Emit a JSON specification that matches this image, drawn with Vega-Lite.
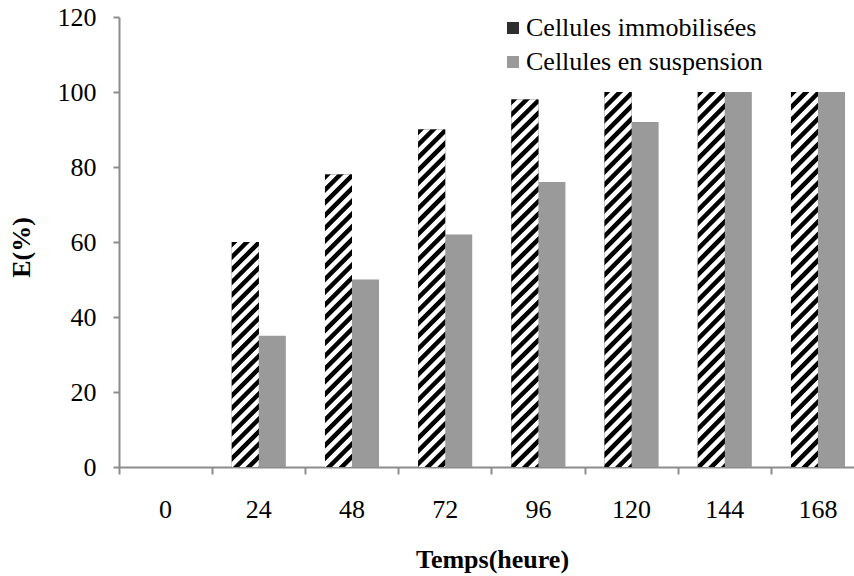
{
"$schema":"https://vega.github.io/schema/vega-lite/v6.json",
"width":735,"height":450,
"autosize":{"type":"none"},
"padding":{"left":119,"top":17,"right":0,"bottom":109},
"config":{"view":{"stroke":null},"font":"Liberation Serif","legend":{"labelFont":"Liberation Serif","padding":0}},
"data":{"values":[
{"t":0,"serie":"Cellules immobilisées","E":0},{"t":0,"serie":"Cellules en suspension","E":0},
{"t":24,"serie":"Cellules immobilisées","E":60},{"t":24,"serie":"Cellules en suspension","E":35},
{"t":48,"serie":"Cellules immobilisées","E":78},{"t":48,"serie":"Cellules en suspension","E":50},
{"t":72,"serie":"Cellules immobilisées","E":90},{"t":72,"serie":"Cellules en suspension","E":62},
{"t":96,"serie":"Cellules immobilisées","E":98},{"t":96,"serie":"Cellules en suspension","E":76},
{"t":120,"serie":"Cellules immobilisées","E":100},{"t":120,"serie":"Cellules en suspension","E":92},
{"t":144,"serie":"Cellules immobilisées","E":100},{"t":144,"serie":"Cellules en suspension","E":100},
{"t":168,"serie":"Cellules immobilisées","E":100},{"t":168,"serie":"Cellules en suspension","E":100}
]},
"encoding":{
"x":{"field":"t","type":"ordinal","scale":{"paddingInner":0.42,"paddingOuter":0.21,"range":[0,745.6]},
"axis":{"title":"Temps(heure)","labelAngle":0,"bandPosition":-0.362,"tickSize":7,"labelPadding":22,"labelFont":"Liberation Serif","labelFontSize":26,"labelColor":"#000","domainColor":"#8c8c8c","tickColor":"#8c8c8c","domainWidth":2,"tickWidth":2,"grid":false,"titleFont":"Liberation Serif","titleFontSize":26,"titleFontWeight":"bold","titleColor":"#000","titleX":373,"titleY":100,"titleBaseline":"alphabetic","titleAnchor":null}},
"xOffset":{"field":"serie","type":"nominal","scale":{"domain":["Cellules immobilisées","Cellules en suspension"],"paddingInner":0,"paddingOuter":0}},
"y":{"field":"E","type":"quantitative","scale":{"domain":[0,120]},
"axis":{"title":"E(%)","values":[0,20,40,60,80,100,120],"grid":false,"tickSize":6,"labelPadding":17,"labelFont":"Liberation Serif","labelFontSize":26,"labelColor":"#000","domainColor":"#8c8c8c","tickColor":"#8c8c8c","domainWidth":2,"tickWidth":2,"titleFont":"Liberation Serif","titleFontSize":26,"titleFontWeight":"bold","titleColor":"#000","titleAngle":-90,"titleBaseline":"alphabetic","titleAlign":"center","titleX":-90,"titleY":230}}
},
"layer":[
{"mark":{"type":"bar","strokeWidth":0},
"encoding":{"color":{"field":"serie","type":"nominal","scale":{"domain":["Cellules immobilisées","Cellules en suspension"],"range":["#2e2e2e","#9a9a9a"]},
"legend":{"title":null,"orient":"none","legendX":381,"legendY":-2,"padding":0,"symbolType":"square","symbolSize":144,"symbolStrokeWidth":0,"labelFont":"Liberation Serif","labelFontSize":26,"labelColor":"#000","rowPadding":8,"labelOffset":0,"labelLimit":0}}}},
{"transform":[{"filter":"datum.serie === 'Cellules immobilisées' && datum.E === 60"}],
"mark":{"type":"bar","strokeWidth":0,"fill":{"gradient":"linear","x1":0,"y1":0,"x2":0.1325,"y2":1.1041,"stops":[
{"offset":0,"color":"#000"},{"offset":0.02,"color":"#000"},{"offset":0.025,"color":"#fff"},{"offset":0.045,"color":"#fff"},
{"offset":0.05,"color":"#000"},{"offset":0.07,"color":"#000"},{"offset":0.075,"color":"#fff"},{"offset":0.095,"color":"#fff"},
{"offset":0.1,"color":"#000"},{"offset":0.12,"color":"#000"},{"offset":0.125,"color":"#fff"},{"offset":0.145,"color":"#fff"},
{"offset":0.15,"color":"#000"},{"offset":0.17,"color":"#000"},{"offset":0.175,"color":"#fff"},{"offset":0.195,"color":"#fff"},
{"offset":0.2,"color":"#000"},{"offset":0.22,"color":"#000"},{"offset":0.225,"color":"#fff"},{"offset":0.245,"color":"#fff"},
{"offset":0.25,"color":"#000"},{"offset":0.27,"color":"#000"},{"offset":0.275,"color":"#fff"},{"offset":0.295,"color":"#fff"},
{"offset":0.3,"color":"#000"},{"offset":0.32,"color":"#000"},{"offset":0.325,"color":"#fff"},{"offset":0.345,"color":"#fff"},
{"offset":0.35,"color":"#000"},{"offset":0.37,"color":"#000"},{"offset":0.375,"color":"#fff"},{"offset":0.395,"color":"#fff"},
{"offset":0.4,"color":"#000"},{"offset":0.42,"color":"#000"},{"offset":0.425,"color":"#fff"},{"offset":0.445,"color":"#fff"},
{"offset":0.45,"color":"#000"},{"offset":0.47,"color":"#000"},{"offset":0.475,"color":"#fff"},{"offset":0.495,"color":"#fff"},
{"offset":0.5,"color":"#000"},{"offset":0.52,"color":"#000"},{"offset":0.525,"color":"#fff"},{"offset":0.545,"color":"#fff"},
{"offset":0.55,"color":"#000"},{"offset":0.57,"color":"#000"},{"offset":0.575,"color":"#fff"},{"offset":0.595,"color":"#fff"},
{"offset":0.6,"color":"#000"},{"offset":0.62,"color":"#000"},{"offset":0.625,"color":"#fff"},{"offset":0.645,"color":"#fff"},
{"offset":0.65,"color":"#000"},{"offset":0.67,"color":"#000"},{"offset":0.675,"color":"#fff"},{"offset":0.695,"color":"#fff"},
{"offset":0.7,"color":"#000"},{"offset":0.72,"color":"#000"},{"offset":0.725,"color":"#fff"},{"offset":0.745,"color":"#fff"},
{"offset":0.75,"color":"#000"},{"offset":0.77,"color":"#000"},{"offset":0.775,"color":"#fff"},{"offset":0.795,"color":"#fff"},
{"offset":0.8,"color":"#000"},{"offset":0.82,"color":"#000"},{"offset":0.825,"color":"#fff"},{"offset":0.845,"color":"#fff"},
{"offset":0.85,"color":"#000"},{"offset":0.87,"color":"#000"},{"offset":0.875,"color":"#fff"},{"offset":0.895,"color":"#fff"},
{"offset":0.9,"color":"#000"},{"offset":0.92,"color":"#000"},{"offset":0.925,"color":"#fff"},{"offset":0.945,"color":"#fff"},
{"offset":0.95,"color":"#000"},{"offset":0.97,"color":"#000"},{"offset":0.975,"color":"#fff"},{"offset":0.995,"color":"#fff"},
{"offset":1,"color":"#000"}]}}},
{"transform":[{"filter":"datum.serie === 'Cellules immobilisées' && datum.E === 78"}],
"mark":{"type":"bar","strokeWidth":0,"fill":{"gradient":"linear","x1":0,"y1":0,"x2":0.1,"y2":1.0831,"stops":[
{"offset":0,"color":"#000"},{"offset":0.016,"color":"#000"},{"offset":0.02,"color":"#fff"},{"offset":0.036,"color":"#fff"},
{"offset":0.04,"color":"#000"},{"offset":0.056,"color":"#000"},{"offset":0.06,"color":"#fff"},{"offset":0.076,"color":"#fff"},
{"offset":0.08,"color":"#000"},{"offset":0.096,"color":"#000"},{"offset":0.1,"color":"#fff"},{"offset":0.116,"color":"#fff"},
{"offset":0.12,"color":"#000"},{"offset":0.136,"color":"#000"},{"offset":0.14,"color":"#fff"},{"offset":0.156,"color":"#fff"},
{"offset":0.16,"color":"#000"},{"offset":0.176,"color":"#000"},{"offset":0.18,"color":"#fff"},{"offset":0.196,"color":"#fff"},
{"offset":0.2,"color":"#000"},{"offset":0.216,"color":"#000"},{"offset":0.22,"color":"#fff"},{"offset":0.236,"color":"#fff"},
{"offset":0.24,"color":"#000"},{"offset":0.256,"color":"#000"},{"offset":0.26,"color":"#fff"},{"offset":0.276,"color":"#fff"},
{"offset":0.28,"color":"#000"},{"offset":0.296,"color":"#000"},{"offset":0.3,"color":"#fff"},{"offset":0.316,"color":"#fff"},
{"offset":0.32,"color":"#000"},{"offset":0.336,"color":"#000"},{"offset":0.34,"color":"#fff"},{"offset":0.356,"color":"#fff"},
{"offset":0.36,"color":"#000"},{"offset":0.376,"color":"#000"},{"offset":0.38,"color":"#fff"},{"offset":0.396,"color":"#fff"},
{"offset":0.4,"color":"#000"},{"offset":0.416,"color":"#000"},{"offset":0.42,"color":"#fff"},{"offset":0.436,"color":"#fff"},
{"offset":0.44,"color":"#000"},{"offset":0.456,"color":"#000"},{"offset":0.46,"color":"#fff"},{"offset":0.476,"color":"#fff"},
{"offset":0.48,"color":"#000"},{"offset":0.496,"color":"#000"},{"offset":0.5,"color":"#fff"},{"offset":0.516,"color":"#fff"},
{"offset":0.52,"color":"#000"},{"offset":0.536,"color":"#000"},{"offset":0.54,"color":"#fff"},{"offset":0.556,"color":"#fff"},
{"offset":0.56,"color":"#000"},{"offset":0.576,"color":"#000"},{"offset":0.58,"color":"#fff"},{"offset":0.596,"color":"#fff"},
{"offset":0.6,"color":"#000"},{"offset":0.616,"color":"#000"},{"offset":0.62,"color":"#fff"},{"offset":0.636,"color":"#fff"},
{"offset":0.64,"color":"#000"},{"offset":0.656,"color":"#000"},{"offset":0.66,"color":"#fff"},{"offset":0.676,"color":"#fff"},
{"offset":0.68,"color":"#000"},{"offset":0.696,"color":"#000"},{"offset":0.7,"color":"#fff"},{"offset":0.716,"color":"#fff"},
{"offset":0.72,"color":"#000"},{"offset":0.736,"color":"#000"},{"offset":0.74,"color":"#fff"},{"offset":0.756,"color":"#fff"},
{"offset":0.76,"color":"#000"},{"offset":0.776,"color":"#000"},{"offset":0.78,"color":"#fff"},{"offset":0.796,"color":"#fff"},
{"offset":0.8,"color":"#000"},{"offset":0.816,"color":"#000"},{"offset":0.82,"color":"#fff"},{"offset":0.836,"color":"#fff"},
{"offset":0.84,"color":"#000"},{"offset":0.856,"color":"#000"},{"offset":0.86,"color":"#fff"},{"offset":0.876,"color":"#fff"},
{"offset":0.88,"color":"#000"},{"offset":0.896,"color":"#000"},{"offset":0.9,"color":"#fff"},{"offset":0.916,"color":"#fff"},
{"offset":0.92,"color":"#000"},{"offset":0.936,"color":"#000"},{"offset":0.94,"color":"#fff"},{"offset":0.956,"color":"#fff"},
{"offset":0.96,"color":"#000"},{"offset":0.976,"color":"#000"},{"offset":0.98,"color":"#fff"},{"offset":0.996,"color":"#fff"},
{"offset":1,"color":"#000"}]}}},
{"transform":[{"filter":"datum.serie === 'Cellules immobilisées' && datum.E === 90"}],
"mark":{"type":"bar","strokeWidth":0,"fill":{"gradient":"linear","x1":0,"y1":0,"x2":0.0859,"y2":1.0731,"stops":[
{"offset":0,"color":"#000"},{"offset":0.014,"color":"#000"},{"offset":0.0175,"color":"#fff"},{"offset":0.0315,"color":"#fff"},
{"offset":0.035,"color":"#000"},{"offset":0.049,"color":"#000"},{"offset":0.0525,"color":"#fff"},{"offset":0.0665,"color":"#fff"},
{"offset":0.07,"color":"#000"},{"offset":0.084,"color":"#000"},{"offset":0.0875,"color":"#fff"},{"offset":0.1015,"color":"#fff"},
{"offset":0.105,"color":"#000"},{"offset":0.119,"color":"#000"},{"offset":0.1225,"color":"#fff"},{"offset":0.1365,"color":"#fff"},
{"offset":0.14,"color":"#000"},{"offset":0.154,"color":"#000"},{"offset":0.1575,"color":"#fff"},{"offset":0.1715,"color":"#fff"},
{"offset":0.175,"color":"#000"},{"offset":0.189,"color":"#000"},{"offset":0.1925,"color":"#fff"},{"offset":0.2065,"color":"#fff"},
{"offset":0.21,"color":"#000"},{"offset":0.224,"color":"#000"},{"offset":0.2275,"color":"#fff"},{"offset":0.2415,"color":"#fff"},
{"offset":0.245,"color":"#000"},{"offset":0.259,"color":"#000"},{"offset":0.2625,"color":"#fff"},{"offset":0.2765,"color":"#fff"},
{"offset":0.28,"color":"#000"},{"offset":0.294,"color":"#000"},{"offset":0.2975,"color":"#fff"},{"offset":0.3115,"color":"#fff"},
{"offset":0.315,"color":"#000"},{"offset":0.329,"color":"#000"},{"offset":0.3325,"color":"#fff"},{"offset":0.3465,"color":"#fff"},
{"offset":0.35,"color":"#000"},{"offset":0.364,"color":"#000"},{"offset":0.3675,"color":"#fff"},{"offset":0.3815,"color":"#fff"},
{"offset":0.385,"color":"#000"},{"offset":0.399,"color":"#000"},{"offset":0.4025,"color":"#fff"},{"offset":0.4165,"color":"#fff"},
{"offset":0.42,"color":"#000"},{"offset":0.434,"color":"#000"},{"offset":0.4375,"color":"#fff"},{"offset":0.4515,"color":"#fff"},
{"offset":0.455,"color":"#000"},{"offset":0.469,"color":"#000"},{"offset":0.4725,"color":"#fff"},{"offset":0.4865,"color":"#fff"},
{"offset":0.49,"color":"#000"},{"offset":0.504,"color":"#000"},{"offset":0.5075,"color":"#fff"},{"offset":0.5215,"color":"#fff"},
{"offset":0.525,"color":"#000"},{"offset":0.539,"color":"#000"},{"offset":0.5425,"color":"#fff"},{"offset":0.5565,"color":"#fff"},
{"offset":0.56,"color":"#000"},{"offset":0.574,"color":"#000"},{"offset":0.5775,"color":"#fff"},{"offset":0.5915,"color":"#fff"},
{"offset":0.595,"color":"#000"},{"offset":0.609,"color":"#000"},{"offset":0.6125,"color":"#fff"},{"offset":0.6265,"color":"#fff"},
{"offset":0.63,"color":"#000"},{"offset":0.644,"color":"#000"},{"offset":0.6475,"color":"#fff"},{"offset":0.6615,"color":"#fff"},
{"offset":0.665,"color":"#000"},{"offset":0.679,"color":"#000"},{"offset":0.6825,"color":"#fff"},{"offset":0.6965,"color":"#fff"},
{"offset":0.7,"color":"#000"},{"offset":0.714,"color":"#000"},{"offset":0.7175,"color":"#fff"},{"offset":0.7315,"color":"#fff"},
{"offset":0.735,"color":"#000"},{"offset":0.749,"color":"#000"},{"offset":0.7525,"color":"#fff"},{"offset":0.7665,"color":"#fff"},
{"offset":0.77,"color":"#000"},{"offset":0.784,"color":"#000"},{"offset":0.7875,"color":"#fff"},{"offset":0.8015,"color":"#fff"},
{"offset":0.805,"color":"#000"},{"offset":0.819,"color":"#000"},{"offset":0.8225,"color":"#fff"},{"offset":0.8365,"color":"#fff"},
{"offset":0.84,"color":"#000"},{"offset":0.854,"color":"#000"},{"offset":0.8575,"color":"#fff"},{"offset":0.8715,"color":"#fff"},
{"offset":0.875,"color":"#000"},{"offset":0.889,"color":"#000"},{"offset":0.8925,"color":"#fff"},{"offset":0.9065,"color":"#fff"},
{"offset":0.91,"color":"#000"},{"offset":0.924,"color":"#000"},{"offset":0.9275,"color":"#fff"},{"offset":0.9415,"color":"#fff"},
{"offset":0.945,"color":"#000"},{"offset":0.959,"color":"#000"},{"offset":0.9625,"color":"#fff"},{"offset":0.9765,"color":"#fff"},
{"offset":0.98,"color":"#000"},{"offset":0.994,"color":"#000"},{"offset":0.9975,"color":"#fff"},{"offset":1,"color":"#fff"}]}}},
{"transform":[{"filter":"datum.serie === 'Cellules immobilisées' && datum.E >= 95"}],
"mark":{"type":"bar","strokeWidth":0,"fill":{"gradient":"linear","x1":0,"y1":0,"x2":0.0775,"y2":1.067,"stops":[
{"offset":0,"color":"#000"},{"offset":0.0128,"color":"#000"},{"offset":0.016,"color":"#fff"},{"offset":0.0288,"color":"#fff"},
{"offset":0.032,"color":"#000"},{"offset":0.0448,"color":"#000"},{"offset":0.048,"color":"#fff"},{"offset":0.0608,"color":"#fff"},
{"offset":0.064,"color":"#000"},{"offset":0.0768,"color":"#000"},{"offset":0.08,"color":"#fff"},{"offset":0.0928,"color":"#fff"},
{"offset":0.096,"color":"#000"},{"offset":0.1088,"color":"#000"},{"offset":0.112,"color":"#fff"},{"offset":0.1248,"color":"#fff"},
{"offset":0.128,"color":"#000"},{"offset":0.1408,"color":"#000"},{"offset":0.144,"color":"#fff"},{"offset":0.1568,"color":"#fff"},
{"offset":0.16,"color":"#000"},{"offset":0.1728,"color":"#000"},{"offset":0.176,"color":"#fff"},{"offset":0.1888,"color":"#fff"},
{"offset":0.192,"color":"#000"},{"offset":0.2048,"color":"#000"},{"offset":0.208,"color":"#fff"},{"offset":0.2208,"color":"#fff"},
{"offset":0.224,"color":"#000"},{"offset":0.2368,"color":"#000"},{"offset":0.24,"color":"#fff"},{"offset":0.2528,"color":"#fff"},
{"offset":0.256,"color":"#000"},{"offset":0.2688,"color":"#000"},{"offset":0.272,"color":"#fff"},{"offset":0.2848,"color":"#fff"},
{"offset":0.288,"color":"#000"},{"offset":0.3008,"color":"#000"},{"offset":0.304,"color":"#fff"},{"offset":0.3168,"color":"#fff"},
{"offset":0.32,"color":"#000"},{"offset":0.3328,"color":"#000"},{"offset":0.336,"color":"#fff"},{"offset":0.3488,"color":"#fff"},
{"offset":0.352,"color":"#000"},{"offset":0.3648,"color":"#000"},{"offset":0.368,"color":"#fff"},{"offset":0.3808,"color":"#fff"},
{"offset":0.384,"color":"#000"},{"offset":0.3968,"color":"#000"},{"offset":0.4,"color":"#fff"},{"offset":0.4128,"color":"#fff"},
{"offset":0.416,"color":"#000"},{"offset":0.4288,"color":"#000"},{"offset":0.432,"color":"#fff"},{"offset":0.4448,"color":"#fff"},
{"offset":0.448,"color":"#000"},{"offset":0.4608,"color":"#000"},{"offset":0.464,"color":"#fff"},{"offset":0.4768,"color":"#fff"},
{"offset":0.48,"color":"#000"},{"offset":0.4928,"color":"#000"},{"offset":0.496,"color":"#fff"},{"offset":0.5088,"color":"#fff"},
{"offset":0.512,"color":"#000"},{"offset":0.5248,"color":"#000"},{"offset":0.528,"color":"#fff"},{"offset":0.5408,"color":"#fff"},
{"offset":0.544,"color":"#000"},{"offset":0.5568,"color":"#000"},{"offset":0.56,"color":"#fff"},{"offset":0.5728,"color":"#fff"},
{"offset":0.576,"color":"#000"},{"offset":0.5888,"color":"#000"},{"offset":0.592,"color":"#fff"},{"offset":0.6048,"color":"#fff"},
{"offset":0.608,"color":"#000"},{"offset":0.6208,"color":"#000"},{"offset":0.624,"color":"#fff"},{"offset":0.6368,"color":"#fff"},
{"offset":0.64,"color":"#000"},{"offset":0.6528,"color":"#000"},{"offset":0.656,"color":"#fff"},{"offset":0.6688,"color":"#fff"},
{"offset":0.672,"color":"#000"},{"offset":0.6848,"color":"#000"},{"offset":0.688,"color":"#fff"},{"offset":0.7008,"color":"#fff"},
{"offset":0.704,"color":"#000"},{"offset":0.7168,"color":"#000"},{"offset":0.72,"color":"#fff"},{"offset":0.7328,"color":"#fff"},
{"offset":0.736,"color":"#000"},{"offset":0.7488,"color":"#000"},{"offset":0.752,"color":"#fff"},{"offset":0.7648,"color":"#fff"},
{"offset":0.768,"color":"#000"},{"offset":0.7808,"color":"#000"},{"offset":0.784,"color":"#fff"},{"offset":0.7968,"color":"#fff"},
{"offset":0.8,"color":"#000"},{"offset":0.8128,"color":"#000"},{"offset":0.816,"color":"#fff"},{"offset":0.8288,"color":"#fff"},
{"offset":0.832,"color":"#000"},{"offset":0.8448,"color":"#000"},{"offset":0.848,"color":"#fff"},{"offset":0.8608,"color":"#fff"},
{"offset":0.864,"color":"#000"},{"offset":0.8768,"color":"#000"},{"offset":0.88,"color":"#fff"},{"offset":0.8928,"color":"#fff"},
{"offset":0.896,"color":"#000"},{"offset":0.9088,"color":"#000"},{"offset":0.912,"color":"#fff"},{"offset":0.9248,"color":"#fff"},
{"offset":0.928,"color":"#000"},{"offset":0.9408,"color":"#000"},{"offset":0.944,"color":"#fff"},{"offset":0.9568,"color":"#fff"},
{"offset":0.96,"color":"#000"},{"offset":0.9728,"color":"#000"},{"offset":0.976,"color":"#fff"},{"offset":0.9888,"color":"#fff"},
{"offset":0.992,"color":"#000"},{"offset":1,"color":"#000"}]}}}
]
}
